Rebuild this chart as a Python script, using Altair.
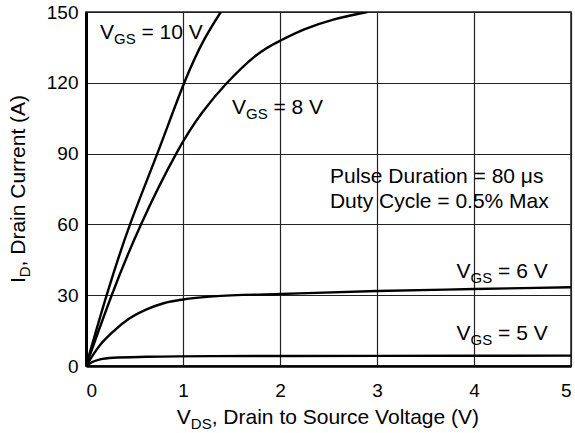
import altair as alt
import pandas as pd

# Output characteristics: drain current vs drain-source voltage, one curve per gate voltage
vds_10v = [0, 0.213, 0.454, 0.735, 1.013, 1.225, 1.39]
id_10v = [0, 30, 60, 90, 120, 138.8, 150]

vds_8v = [0, 0.265, 0.567, 0.93, 1.2, 1.455, 1.76, 2.0, 2.25, 2.55, 2.9]
id_8v = [0, 30, 60, 90, 107.5, 120, 131.8, 137.8, 142.6, 146.8, 150]

vds_6v = [0, 0.145, 0.28, 0.45, 0.625, 0.8, 1.0, 1.31, 2.0, 3.0, 4.0, 5.0]
id_6v = [0, 8.9, 14.6, 20.2, 24.0, 26.6, 28.2, 29.5, 30.5, 31.8, 32.6, 33.4]

vds_5v = [0, 0.05, 0.145, 0.28, 0.625, 1.31, 3.0, 5.0]
id_5v = [0, 1.4, 2.8, 3.5, 3.9, 4.2, 4.3, 4.4]

# Curve labels (anchored at the start of "V") and test-condition note
label_vds = [0.144, 1.505, 3.82, 3.82]
label_id = [138.6, 106.8, 37.3, 11.0]
label_rest = ["= 10 V", "= 8 V", "= 6 V", "= 5 V"]

note_lines = ["Pulse Duration = 80 \u03bcs", "Duty Cycle = 0.5% Max"]
note_vds = [2.515, 2.515]
note_id = [77.5, 66.9]

x_ticks = [0, 1, 2, 3, 4, 5]
y_ticks = [0, 30, 60, 90, 120, 150]

W, H = 485, 354
FONT = "Liberation Sans"
MAIN, SUB, DROP = 21, 15, 5

# Advance widths (em) of the Arial-metric glyphs used in the composite labels
ADV = {
    " ": 0.278, ",": 0.278, "(": 0.333, ")": 0.333,
    "A": 0.667, "C": 0.722, "D": 0.722, "G": 0.778, "I": 0.278, "S": 0.667, "V": 0.667,
    "a": 0.556, "c": 0.5, "e": 0.556, "g": 0.556, "i": 0.222, "l": 0.222, "n": 0.556,
    "o": 0.556, "r": 0.333, "t": 0.278, "u": 0.556,
}


def width(s, size):
    return sum(ADV[c] for c in s) * size


def curve(name, xs, ys):
    return pd.DataFrame({"vds": xs, "id": ys, "vgs": name})


steep = pd.concat([curve("10", vds_10v, id_10v), curve("8", vds_8v, id_8v)], ignore_index=True)
flat = pd.concat([curve("6", vds_6v, id_6v), curve("5", vds_5v, id_5v)], ignore_index=True)

labels = pd.DataFrame({"vds": label_vds, "id": label_id, "base": "V", "sub": "GS", "rest": label_rest})
notes = pd.DataFrame({"vds": note_vds, "id": note_id, "txt": note_lines})

x_enc = alt.X("vds:Q", scale=alt.Scale(domain=[0, 5], nice=False, zero=False),
              axis=alt.Axis(values=x_ticks, title=None, labelPadding=15, format="d"))
y_enc = alt.Y("id:Q", scale=alt.Scale(domain=[0, 150], nice=False),
              axis=alt.Axis(values=y_ticks, title=None, labelPadding=8, format="d"))

line_style = dict(color="black", strokeWidth=2.4, clip=True)
lines_steep = alt.Chart(steep).mark_line(interpolate="natural", **line_style).encode(
    x=x_enc, y=y_enc, detail="vgs:N")
lines_flat = alt.Chart(flat).mark_line(interpolate="monotone", **line_style).encode(
    x="vds:Q", y="id:Q", detail="vgs:N")

txt = dict(align="left", baseline="alphabetic", font=FONT, color="black")
wV = width("V", MAIN)
wGS = width("GS", SUB)

lab_base = alt.Chart(labels).mark_text(fontSize=MAIN, **txt).encode(x="vds:Q", y="id:Q", text="base:N")
lab_sub = alt.Chart(labels).mark_text(fontSize=SUB, dx=wV, dy=DROP, **txt).encode(
    x="vds:Q", y="id:Q", text="sub:N")
lab_rest = alt.Chart(labels).mark_text(fontSize=MAIN, dx=wV + wGS + width(" ", MAIN), **txt).encode(
    x="vds:Q", y="id:Q", text="rest:N")

note = alt.Chart(notes).mark_text(fontSize=MAIN, **txt).encode(x="vds:Q", y="id:Q", text="txt:N")

# Axis titles with subscripts, assembled from pieces
xt_rest = ", Drain to Source Voltage (V)"
xt_total = width("V", MAIN) + width("DS", SUB) + width(xt_rest, MAIN)
xt_x0 = W / 2 - xt_total / 2
xt_y = 412
one = pd.DataFrame({"k": [0]})
xt_parts = [
    ("V", MAIN, 0, 0),
    ("DS", SUB, width("V", MAIN), DROP),
    (xt_rest, MAIN, width("V", MAIN) + width("DS", SUB), 0),
]
x_title = [
    alt.Chart(one).mark_text(fontSize=fs, dx=dx, dy=dy, **txt).encode(
        x=alt.value(xt_x0), y=alt.value(xt_y), text=alt.value(s))
    for s, fs, dx, dy in xt_parts
]

yt_rest = ", Drain Current (A)"
yt_total = width("I", MAIN) + width("D", SUB) + width(yt_rest, MAIN)
yt_x = -61
yt_y = H / 2 + yt_total / 2
yt_parts = [
    ("I", MAIN, 0, 0),
    ("D", SUB, width("I", MAIN), DROP),
    (yt_rest, MAIN, width("I", MAIN) + width("D", SUB), 0),
]
y_title = [
    alt.Chart(one).mark_text(fontSize=fs, dx=dx, dy=dy, angle=270, **txt).encode(
        x=alt.value(yt_x), y=alt.value(yt_y), text=alt.value(s))
    for s, fs, dx, dy in yt_parts
]

chart = alt.layer(
    lines_steep, lines_flat, lab_base, lab_sub, lab_rest, note, *x_title, *y_title
).properties(
    width=W, height=H,
    autosize=alt.AutoSizeParams(type="none"),
    padding={"left": 86, "top": 12, "right": 4, "bottom": 67},
    background="white",
).configure_view(
    stroke="#222", strokeWidth=1.5
).configure_axis(
    grid=True, gridColor="#222", gridWidth=1.2, gridOpacity=1,
    ticks=False, domainColor="black",
    labelFont=FONT, labelFontSize=19, labelColor="black",
).configure_axisX(
    domainWidth=2.5
).configure_axisY(
    domainWidth=3
)

chart.save("out.html", embed_options={"renderer": "svg", "actions": False})
